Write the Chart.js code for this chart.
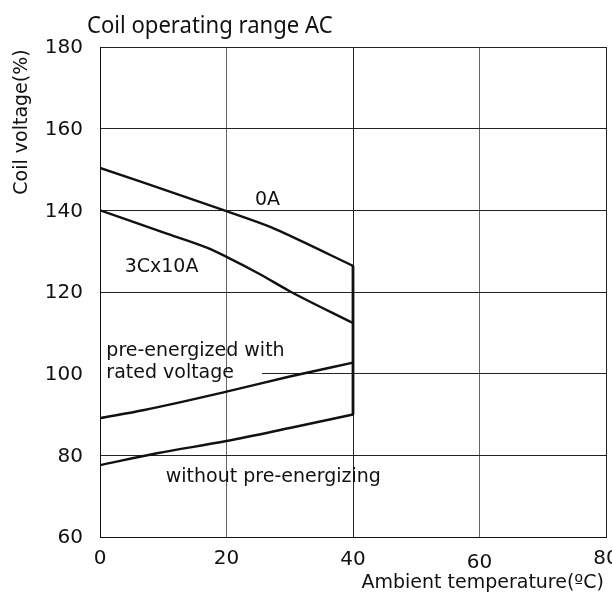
<!DOCTYPE html>
<html>
<head>
<meta charset="utf-8">
<script src="https://cdn.jsdelivr.net/npm/chart.js@4"></script>
<style>
  body { margin: 0; background: #fff; }
  #wrap { width: 612px; height: 597px; }
</style>
</head>
<body>
<div id="wrap"><canvas id="coilChart" width="612" height="597"></canvas></div>
<script>
// values
var tempOA = [0, 20, 27, 30, 40];
var voltOA = [150.4, 139.8, 135.9, 133.8, 126.4];

var temp3C = [0, 10, 17, 20, 25, 30, 40];
var volt3C = [140, 134.6, 130.8, 128.6, 124.6, 120.2, 112.4];

var tempPre = [0, 7, 20, 30, 40];
var voltPre = [89.1, 91.1, 95.6, 99.3, 102.7];

var tempWithout = [0, 9, 20, 30, 40];
var voltWithout = [77.6, 80.5, 83.5, 86.7, 90];

var tempEdge = [40, 40];
var voltEdge = [90, 126.4];

var xTicks = [0, 20, 40, 60, 80];
var yTicks = [60, 80, 100, 120, 140, 160, 180];

var TITLE_FONT = '"Noto Sans", sans-serif';
var FONT = '"DejaVu Sans", sans-serif';

function pts(xs, ys) {
  var out = [];
  for (let i = 0; i < xs.length; i++) out.push({x: xs[i], y: ys[i]});
  return out;
}

function line(xs, ys) {
  return {
    data: pts(xs, ys),
    borderColor: '#111',
    borderWidth: 2.4,
    pointRadius: 0,
    cubicInterpolationMode: 'monotone',
    fill: false
  };
}

// curve captions, anchored in data units (left edge, middle)
var captions = [
  {text: '0A', x: 24.5, y: 142.4},
  {text: '3Cx10A', x: 3.9, y: 126.2},
  {text: 'pre-energized with', x: 1.0, y: 105.6},
  {text: 'rated voltage', x: 1.0, y: 100.2},
  {text: 'without pre-energizing', x: 10.4, y: 74.8}
];

var decor = {
  id: 'decor',
  beforeDatasetsDraw(chart) {
    var c = chart.ctx, xs = chart.scales.x, ys = chart.scales.y;
    // the 100 % gridline is blanked behind the left caption block
    c.save();
    c.fillStyle = '#fff';
    c.fillRect(xs.left + 1, ys.getPixelForValue(100) - 2, xs.getPixelForValue(25.6) - xs.left - 1, 4);
    c.restore();
  },
  afterDraw(chart) {
    var c = chart.ctx, xs = chart.scales.x, ys = chart.scales.y;
    c.save();
    c.fillStyle = '#111';
    // title
    c.save();
    c.font = '24px ' + TITLE_FONT;
    c.textAlign = 'left';
    c.textBaseline = 'alphabetic';
    c.translate(87, 33);
    c.scale(0.92, 1);
    c.fillText('Coil operating range AC', 0, 0);
    c.restore();

    // y ticks
    c.font = '20px ' + FONT;
    c.textAlign = 'right';
    c.textBaseline = 'middle';
    yTicks.forEach(function (v) {
      c.fillText(String(v), 83, ys.getPixelForValue(v) + 1);
    });
    // x ticks
    c.textAlign = 'center';
    c.textBaseline = 'alphabetic';
    xTicks.forEach(function (v) {
      var off = v === 60 ? 4 : (v === 40 ? 1 : 0);
      c.fillText(String(v), xs.getPixelForValue(v), 564 + off);
    });

    // axis titles
    c.font = '19px ' + FONT;
    c.textAlign = 'right';
    c.textBaseline = 'alphabetic';
    c.fillText('Ambient temperature(\u00BAC)', 604, 588);
    c.save();
    c.translate(27, 122);
    c.rotate(-Math.PI / 2);
    c.textAlign = 'center';
    c.fillText('Coil voltage(%)', 0, 0);
    c.restore();

    // captions
    c.font = '19px ' + FONT;
    c.textAlign = 'left';
    c.textBaseline = 'middle';
    captions.forEach(function (t) {
      c.fillText(t.text, xs.getPixelForValue(t.x), ys.getPixelForValue(t.y));
    });
    c.restore();
  }
};

new Chart(document.getElementById('coilChart'), {
  type: 'line',
  data: {
    datasets: [
      line(tempOA, voltOA),
      line(temp3C, volt3C),
      line(tempPre, voltPre),
      line(tempWithout, voltWithout),
      Object.assign(line(tempEdge, voltEdge), {borderWidth: 2.8})
    ]
  },
  options: {
    responsive: false,
    animation: false,
    layout: { padding: { left: 100, right: 6, top: 47, bottom: 60 } },
    plugins: { legend: { display: false }, tooltip: { enabled: false } },
    scales: {
      x: {
        type: 'linear', min: 0, max: 80,
        ticks: { display: false, stepSize: 20 },
        grid: {
          color: function (ctx) { return ctx.tick && (ctx.tick.value === 20 || ctx.tick.value === 60) ? '#666' : '#222'; },
          lineWidth: 1, drawTicks: false
        },
        border: { color: '#111', width: 1 }
      },
      y: {
        type: 'linear', min: 60, max: 180,
        ticks: { display: false, stepSize: 20 },
        grid: { color: '#222', lineWidth: 1, drawTicks: false },
        border: { color: '#111', width: 1 }
      }
    }
  },
  plugins: [decor]
});
</script>
</body>
</html>
